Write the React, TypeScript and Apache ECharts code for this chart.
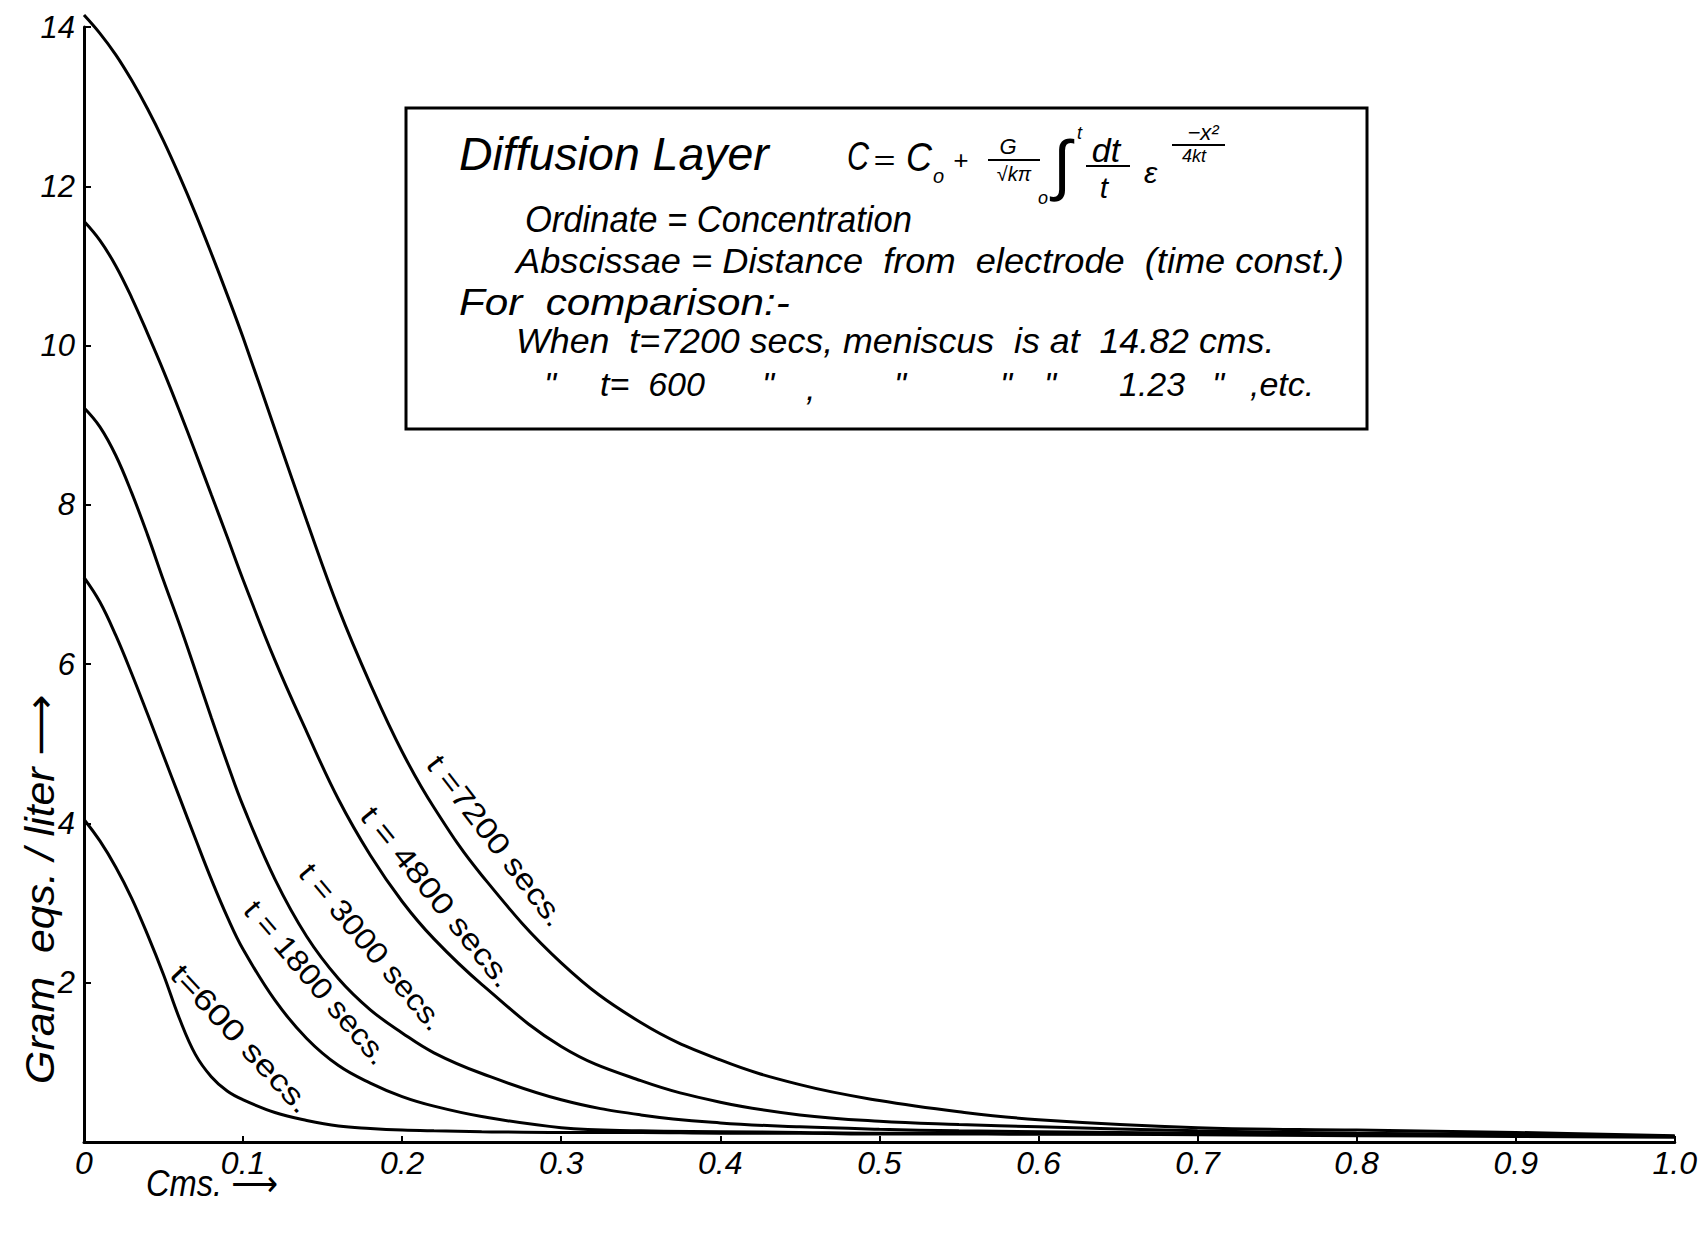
import React, { useEffect, useRef } from "react";
import * as echarts from "echarts";

// ---- data ----
const xs = [0, 0.01, 0.02, 0.03, 0.04, 0.05, 0.06, 0.07, 0.08, 0.09, 0.1, 0.12, 0.14, 0.16, 0.18, 0.2, 0.22, 0.25, 0.3, 0.35, 0.4, 0.45, 0.5, 0.55, 0.6, 0.7, 0.8, 0.9, 1.0];
const t600 = [4.05, 3.78, 3.45, 3.06, 2.6, 2.1, 1.55, 1.1, 0.82, 0.64, 0.53, 0.37, 0.27, 0.2, 0.17, 0.15, 0.14, 0.13, 0.12, 0.12, 0.11, 0.11, 0.1, 0.1, 0.1, 0.09, 0.08, 0.07, 0.06];
const t1800 = [7.09, 6.78, 6.36, 5.88, 5.37, 4.85, 4.33, 3.81, 3.3, 2.83, 2.42, 1.78, 1.3, 0.96, 0.74, 0.57, 0.45, 0.32, 0.18, 0.14, 0.13, 0.12, 0.11, 0.11, 0.1, 0.1, 0.09, 0.08, 0.07];
const t3000 = [9.22, 8.98, 8.62, 8.15, 7.62, 7.05, 6.5, 5.92, 5.33, 4.76, 4.22, 3.3, 2.58, 2.05, 1.66, 1.37, 1.12, 0.86, 0.53, 0.34, 0.24, 0.19, 0.16, 0.14, 0.13, 0.11, 0.1, 0.09, 0.07];
const t4800 = [11.56, 11.32, 11.0, 10.6, 10.15, 9.68, 9.18, 8.66, 8.13, 7.6, 7.06, 6.05, 5.15, 4.3, 3.6, 3.02, 2.55, 1.98, 1.2, 0.77, 0.5, 0.34, 0.26, 0.22, 0.19, 0.14, 0.11, 0.09, 0.07];
const t7200 = [14.15, 13.92, 13.65, 13.33, 12.97, 12.57, 12.13, 11.66, 11.16, 10.64, 10.1, 8.95, 7.8, 6.7, 5.75, 4.9, 4.2, 3.35, 2.25, 1.5, 1.03, 0.72, 0.52, 0.38, 0.28, 0.18, 0.15, 0.12, 0.08];

const curveValues = [t600, t1800, t3000, t4800, t7200];
const curveLabels = ["t=600 secs.", "t = 1800 secs.", "t = 3000 secs.", "t = 4800 secs.", "t =7200 secs."];
const labelAtX = [0.099, 0.146, 0.181, 0.222, 0.259];
const labelAtY = [1.3, 2.0, 2.45, 3.08, 3.78];
const labelAngle = [47, 49.5, 50, 51, 52.5];
const labelLength = [191, 205, 208, 223, 207];

const FONT = "'Liberation Sans', 'DejaVu Sans', sans-serif";
const AXFONT = "'Liberation Sans Narrow', 'Liberation Sans', 'DejaVu Sans', sans-serif";

let measureCtx: CanvasRenderingContext2D | null = null;
function measure(text: string, size: number, italic: boolean, family: string) {
  if (!measureCtx) measureCtx = document.createElement("canvas").getContext("2d");
  if (!measureCtx) return text.length * size * 0.5;
  measureCtx.font = `${italic ? "italic " : ""}${size}px ${family}`;
  return measureCtx.measureText(text).width;
}

function txt(id: string, text: string, x: number, y: number, size: number, opts: any = {}) {
  const italic = opts.italic !== false;
  const family = opts.family || FONT;
  let scaleX = 1;
  if (opts.width) scaleX = opts.width / measure(text, size, italic, family);
  return {
    type: "text",
    id,
    x,
    y,
    rotation: opts.rotation || 0,
    scaleX,
    z: 10,
    style: {
      text,
      fill: "#000",
      fontSize: size,
      fontFamily: family,
      fontStyle: italic ? "italic" : "normal",
      textAlign: opts.align || "left",
      align: opts.align || "left",
      textVerticalAlign: "middle",
      verticalAlign: "middle",
    },
  };
}

function line(id: string, x1: number, y1: number, x2: number, y2: number, w = 2) {
  return { type: "line", id, z: 10, shape: { x1, y1, x2, y2 }, style: { stroke: "#000", lineWidth: w } };
}

export default function App() {
  const ref = useRef<HTMLDivElement>(null);
  useEffect(() => {
    if (!ref.current) return;
    const chart = echarts.init(ref.current, undefined, { renderer: "svg" });
    const series = curveValues.map((vals, i) => ({
      type: "line",
      name: curveLabels[i],
      data: xs.map((x, j) => [x, vals[j]]),
      smooth: 0.4,
      showSymbol: false,
      clip: false,
      lineStyle: { color: "#000", width: 3 },
      itemStyle: { color: "#000" },
    }));
    chart.setOption({
      animation: false,
      backgroundColor: "#ffffff",
      grid: { left: 84, right: 22, top: 27, bottom: 93 },
      xAxis: {
        type: "value",
        min: 0,
        max: 1,
        interval: 0.1,
        axisLine: { lineStyle: { color: "#000", width: 3 } },
        axisTick: { inside: true, length: 6, lineStyle: { color: "#000", width: 2 } },
        splitLine: { show: false },
        axisLabel: {
          color: "#000",
          fontFamily: AXFONT,
          fontStyle: "italic",
          fontSize: 32,
          margin: 5,
          formatter: (v: number) => (v === 0 ? "0" : v.toFixed(1)),
        },
      },
      yAxis: {
        type: "value",
        min: 0,
        max: 14,
        interval: 2,
        axisLine: { show: true, lineStyle: { color: "#000", width: 3 } },
        axisTick: { show: true, inside: true, length: 7, lineStyle: { color: "#000", width: 2 } },
        splitLine: { show: false },
        axisLabel: {
          color: "#000",
          fontFamily: AXFONT,
          fontStyle: "italic",
          fontSize: 31,
          margin: 9,
          formatter: (v: number) => (v === 0 ? "" : String(v)),
        },
      },
      series,
    });

    const labelEls = curveLabels.map((t, i) => {
      const p = chart.convertToPixel({ gridIndex: 0 }, [labelAtX[i], labelAtY[i]]) as number[];
      return txt("lab" + i, t, p[0], p[1], 30, {
        align: "center",
        italic: false,
        width: labelLength[i],
        rotation: (-labelAngle[i] * Math.PI) / 180,
      });
    });

    const graphic: any[] = [
      { type: "rect", id: "box", z: 9, shape: { x: 406, y: 108, width: 961, height: 321 }, style: { fill: "#fff", stroke: "#000", lineWidth: 3 } },
      txt("title", "Diffusion Layer", 459, 154, 46, { width: 310 }),
      // formula
      txt("f1", "C", 847, 157, 40, { width: 22 }),
      txt("f1b", "=", 873, 160, 28, { width: 22 }),
      txt("f1c", "C", 906, 157, 40, { width: 26 }),
      txt("f2", "o", 933, 176, 20),
      txt("f3", "+", 953, 160, 26),
      txt("f4", "G", 1008, 146, 22, { align: "center" }),
      line("fb1", 988, 160, 1040, 160, 2),
      txt("f5", "√kπ", 1014, 174, 20, { align: "center" }),
      txt("f6", "∫", 1062, 164, 66, { align: "center" }),
      txt("f7", "t", 1077, 133, 18),
      txt("f8", "o", 1038, 198, 18),
      txt("f9", "dt", 1106, 150, 34, { align: "center" }),
      line("fb2", 1086, 166, 1130, 166, 2),
      txt("f10", "t", 1104, 187, 30, { align: "center" }),
      txt("f11", "ε", 1144, 172, 30),
      txt("f12", "−x²", 1203, 132, 22, { align: "center" }),
      line("fb3", 1172, 145, 1225, 145, 2),
      txt("f13", "4kt", 1194, 156, 18, { align: "center" }),
      // text lines
      txt("l1", "Ordinate = Concentration", 525, 219, 36, { width: 387 }),
      txt("l2", "Abscissae = Distance  from  electrode  (time const.)", 516, 261, 36, { width: 828 }),
      txt("l3", "For  comparison:-", 459, 302, 36, { width: 331 }),
      txt("l4", "When  t=7200 secs, meniscus  is at  14.82 cms.", 516, 341, 36, { width: 759 }),
      txt("l5a", "\"", 544, 384, 34),
      txt("l5b", "t=  600", 600, 384, 34),
      txt("l5c", "\"", 762, 384, 34),
      txt("l5d", ",", 806, 388, 34),
      txt("l5e", "\"", 894, 384, 34),
      txt("l5f", "\"", 1000, 384, 34),
      txt("l5g", "\"", 1044, 384, 34),
      txt("l5h", "1.23", 1119, 384, 34),
      txt("l5i", "\"", 1212, 384, 34),
      txt("l5j", ",etc.", 1250, 384, 34),
      // axis names
      txt("xname", "Cms. ⟶", 146, 1183, 36, { width: 132 }),
      txt("yname", "Gram  eqs. / liter ⟶", 40, 889, 40, { align: "center", rotation: Math.PI / 2, width: 390 }),
      ...labelEls,
    ];
    chart.setOption({ graphic });
    return () => chart.dispose();
  }, []);
  return (
    <div
      ref={ref}
      style={{ position: "fixed", left: 0, top: 0, width: 1700, height: 1235, background: "#fff" }}
    />
  );
}
